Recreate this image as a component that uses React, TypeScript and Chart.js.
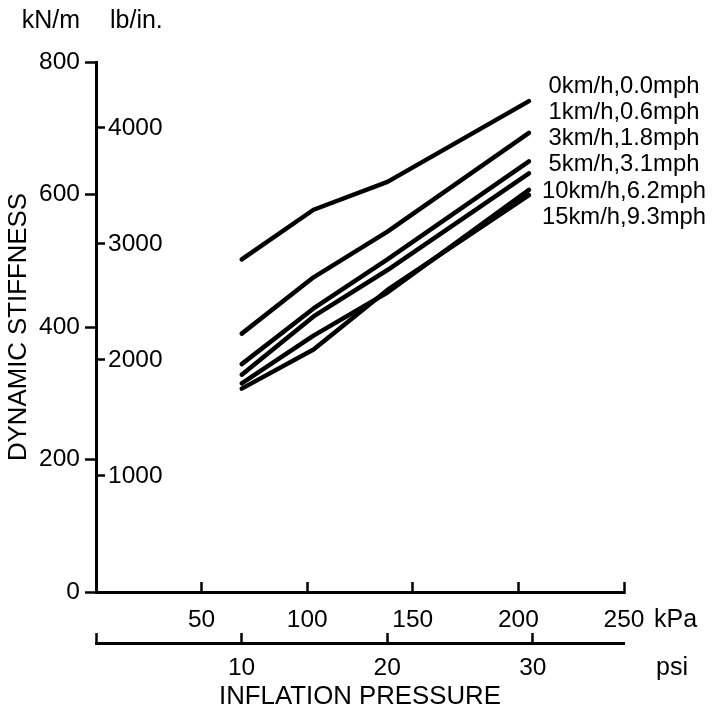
import React, { useEffect, useRef } from 'react';
import { Chart, registerables } from 'chart.js';

Chart.register(...registerables);

const FONT = '"Liberation Sans", Arial, Helvetica, sans-serif';

// Inflation pressure of the measured points (kPa)
const PRESSURE_KPA = [69, 103, 138, 205];

const SPEED_LABELS = [
  '0km/h,0.0mph',
  '1km/h,0.6mph',
  '3km/h,1.8mph',
  '5km/h,3.1mph',
  '10km/h,6.2mph',
  '15km/h,9.3mph',
];

// Dynamic stiffness (kN/m) for each speed
const STIFF_0 = [502, 577, 619, 741];
const STIFF_1 = [390, 475, 544, 693];
const STIFF_3 = [344, 428, 502, 650];
const STIFF_5 = [328, 416, 486, 632];
const STIFF_10 = [315, 387, 452, 607];
const STIFF_15 = [307, 366, 456, 599];

const KN_TICKS = [0, 200, 400, 600, 800];
const LBIN_TICKS = [1000, 2000, 3000, 4000];
const KPA_TICKS = [50, 100, 150, 200, 250];
const PSI_TICKS = [0, 10, 20, 30];

const KN_MAX = 800;
const KPA_MAX = 250;
const LBIN_PER_KNM = 5.710147;
const KPA_PER_PSI = 6.894757;

const SERIES = [STIFF_0, STIFF_1, STIFF_3, STIFF_5, STIFF_10, STIFF_15];

const plain = (v: any) => String(v);

const textPlugin = {
  id: 'extraText',
  afterDraw(chart: any) {
    const ctx = chart.ctx as CanvasRenderingContext2D;
    const { x, x2, y } = chart.scales;
    ctx.save();
    ctx.fillStyle = '#000';
    ctx.textBaseline = 'middle';
    ctx.font = `25px ${FONT}`;
    ctx.textAlign = 'right';
    ctx.fillText('kN/m', y.right - 16, 21);
    ctx.textAlign = 'left';
    ctx.fillText('lb/in.', y.right + 14, 21);
    ctx.fillText('kPa', x.right + 30, 620);
    ctx.fillText('psi', x2.right + 32, 668);
    ctx.font = `23.8px ${FONT}`;
    ctx.textAlign = 'center';
    chart.data.datasets.forEach((ds: any, i: number) => {
      ctx.fillText(ds.label, x.right + 0, 86 + i * 26.3);
    });
    ctx.restore();
  },
};

export default function App() {
  const ref = useRef<HTMLCanvasElement | null>(null);

  useEffect(() => {
    if (!ref.current) return;
    const tickFont = { family: FONT, size: 24.5 };
    const chart = new Chart(ref.current, {
      type: 'line',
      data: {
        datasets: SERIES.map((vals, i) => ({
          label: SPEED_LABELS[i],
          data: PRESSURE_KPA.map((p, j) => ({ x: p, y: vals[j] })),
          borderColor: '#000',
          backgroundColor: '#000',
          borderWidth: 4.5,
          pointRadius: 0,
          tension: 0,
          fill: false,
          borderCapStyle: 'round',
          borderJoinStyle: 'round',
          xAxisID: 'x',
          yAxisID: 'y',
        })),
      },
      options: {
        responsive: false,
        maintainAspectRatio: false,
        animation: false,
        layout: { padding: { left: 0, top: 62, right: 92, bottom: 0 } },
        plugins: {
          legend: { display: false },
          tooltip: { enabled: false },
          title: { display: false },
        },
        scales: {
          x: {
            type: 'linear',
            position: 'bottom',
            weight: 0,
            min: 0,
            max: KPA_MAX,
            afterBuildTicks: (s: any) => {
              s.ticks = KPA_TICKS.map((v) => ({ value: v }));
            },
            afterFit: (s: any) => {
              s.height = 51;
            },
            grid: {
              drawOnChartArea: false,
              drawTicks: true,
              tickLength: -10,
              tickWidth: 2.5,
              tickColor: '#000',
            },
            border: { display: true, color: '#000', width: 3 },
            ticks: {
              color: '#000',
              font: tickFont,
              padding: 24,
              maxRotation: 0,
              autoSkip: false,
              callback: plain,
            },
          },
          x2: {
            type: 'linear',
            position: 'bottom',
            weight: 1,
            min: 0,
            max: KPA_MAX / KPA_PER_PSI,
            afterBuildTicks: (s: any) => {
              s.ticks = PSI_TICKS.map((v) => ({ value: v }));
            },
            afterFit: (s: any) => {
              s.height = 69;
            },
            grid: {
              drawOnChartArea: false,
              drawTicks: true,
              tickLength: -10,
              tickWidth: 2.5,
              tickColor: '#000',
            },
            border: { display: true, color: '#000', width: 3 },
            ticks: {
              color: '#000',
              font: tickFont,
              padding: 21,
              maxRotation: 0,
              autoSkip: false,
              callback: (v: any) => (v === 0 ? '' : String(v)),
            },
            title: {
              display: true,
              text: 'INFLATION PRESSURE',
              color: '#000',
              font: { family: FONT, size: 25.8 },
              padding: { top: 0, bottom: 0 },
            },
          },
          y: {
            type: 'linear',
            position: 'left',
            weight: 1,
            min: 0,
            max: KN_MAX,
            afterBuildTicks: (s: any) => {
              s.ticks = KN_TICKS.map((v) => ({ value: v }));
            },
            afterFit: (s: any) => {
              s.width = 96;
            },
            grid: {
              drawOnChartArea: false,
              drawTicks: true,
              tickLength: 11,
              tickWidth: 2.5,
              tickColor: '#000',
            },
            border: { display: true, color: '#000', width: 3 },
            ticks: { color: '#000', font: tickFont, padding: 5, callback: plain },
            title: {
              display: true,
              text: 'DYNAMIC STIFFNESS',
              color: '#000',
              font: { family: FONT, size: 25.8 },
              padding: { top: 3, bottom: 0 },
            },
          },
          y2: {
            type: 'linear',
            position: 'left',
            weight: 0,
            min: 0,
            max: KN_MAX * LBIN_PER_KNM,
            afterBuildTicks: (s: any) => {
              s.ticks = LBIN_TICKS.map((v) => ({ value: v }));
            },
            afterFit: (s: any) => {
              s.width = 0;
            },
            grid: {
              drawOnChartArea: false,
              drawTicks: true,
              tickLength: -9,
              tickWidth: 2.5,
              tickColor: '#000',
            },
            border: { display: false },
            ticks: {
              color: '#000',
              font: tickFont,
              mirror: true,
              padding: 12,
              crossAlign: 'near',
              callback: plain,
            },
          },
        },
      } as any,
      plugins: [textPlugin],
    });
    return () => chart.destroy();
  }, []);

  return (
    <div style={{ position: 'fixed', left: 0, top: 0, width: 716, height: 712, background: '#fff' }}>
      <canvas ref={ref} width={716} height={712} style={{ display: 'block' }} />
    </div>
  );
}
